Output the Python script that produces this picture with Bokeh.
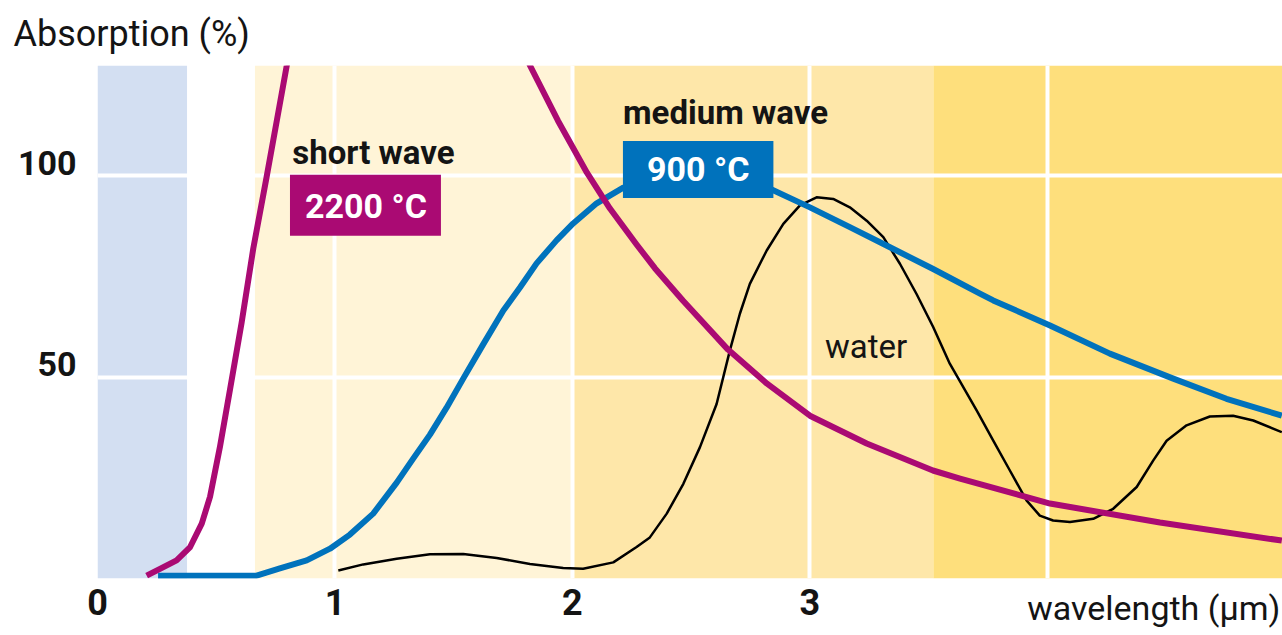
from bokeh.plotting import figure
from bokeh.models import BoxAnnotation, Label, LinearAxis, Range1d, FixedTicker
from bokeh.embed import file_html
from bokeh.resources import INLINE

FONT = "Roboto"

# spectral bands (wavelength, µm)
band_left = [0.0, 0.663, 2.0, 3.52]
band_right = [0.377, 2.0, 3.52, 5.2]
band_colors = ["#D3DFF2", "#FFF4D7", "#FEE7A9", "#FEDF7C"]

x_ticks = [0, 1, 2, 3]
grid_x = [1, 2, 3, 4]
y_ticks = [50, 100]
x_title = "wavelength (µm)"
x_title_pos = 4.448
y_title = "Absorption (%)"

# short wave emitter, 2200 °C
short_x = [0.207, 0.263, 0.333, 0.389, 0.439, 0.474, 0.516, 0.558, 0.607, 0.656, 0.712,
           0.755, 0.797, 0.83, 1.779, 1.821, 1.939, 2.061, 2.158, 2.270, 2.347, 2.465,
           2.655, 2.818, 3.0, 3.239, 3.518, 3.632, 4.011, 4.474, 4.987]
short_y = [0.7, 2.4, 4.5, 7.7, 13.6, 20.3, 32.8, 46.9, 63.5, 81.9, 99.6,
           113.6, 127.3, 140, 133.5, 127.3, 113.6, 100.7, 91.8, 82.9, 77.0, 69.0,
           56.8, 48.4, 40.4, 33.5, 26.8, 24.8, 18.6, 13.9, 9.4]

# medium wave emitter, 900 °C
mid_x = [0.255, 0.670, 0.768, 0.881, 0.979, 1.063, 1.161, 1.260, 1.330, 1.400, 1.470,
         1.540, 1.624, 1.709, 1.779, 1.849, 1.933, 2.003, 2.102, 2.214, 2.347, 2.524,
         2.684, 2.832, 3.0, 3.168, 3.337, 3.519, 3.716, 3.772, 4.011, 4.263, 4.530,
         4.754, 4.987]
mid_y = [0.7, 0.7, 2.5, 4.5, 7.4, 10.9, 16.1, 23.8, 29.8, 35.7, 42.4,
         49.6, 58.1, 66.5, 72.2, 78.2, 83.9, 88.1, 93.1, 97.0, 98.8, 99.8,
         98.8, 96.7, 92.1, 87.2, 82.2, 76.8, 70.7, 69.0, 62.8, 55.8, 49.6,
         44.6, 40.4]

# water absorption
water_x = [1.014, 1.119, 1.260, 1.400, 1.540, 1.681, 1.821, 1.961, 2.045, 2.172, 2.270,
           2.326, 2.397, 2.467, 2.537, 2.607, 2.663, 2.705, 2.747, 2.818, 2.888, 2.958,
           3.028, 3.098, 3.168, 3.239, 3.309, 3.379, 3.449, 3.519, 3.589, 3.702, 3.772,
           3.842, 3.912, 3.968, 4.024, 4.095, 4.193, 4.277, 4.376, 4.446, 4.502, 4.586,
           4.684, 4.782, 4.867, 4.987]
water_y = [2.0, 3.5, 4.9, 6.0, 6.1, 5.1, 3.6, 2.6, 2.4, 4.0, 7.8,
           10.2, 16.1, 23.5, 32.6, 43.3, 56.6, 65.7, 73.1, 81.4, 88.0, 92.6,
           94.6, 94.2, 92.1, 88.8, 84.7, 78.1, 70.6, 62.4, 53.3, 41.7, 34.2,
           26.8, 19.4, 15.6, 14.4, 14.0, 14.8, 17.3, 22.7, 29.3, 34.2, 38.0,
           40.2, 40.4, 39.2, 36.3]

MAGENTA = "#AA0A73"
BLUE = "#0072BC"
INK = "#141414"

X_END = 4.99
Y_END = 127.3
p = figure(width=1282, height=635,
           x_range=Range1d(0, X_END), y_range=Range1d(0, Y_END),
           output_backend="svg", toolbar_location=None,
           min_border_left=97, min_border_right=0, min_border_top=65, min_border_bottom=57)
p.background_fill_color = "white"
p.border_fill_color = "white"
p.outline_line_color = None

# title top-left
p.title.text = y_title
p.title.text_font = FONT
p.title.text_font_size = "36px"
p.title.text_font_style = "normal"
p.title.text_color = INK
p.title.align = "left"
p.title.vertical_align = "middle"
p.title.offset = -84
p.title.standoff = 19

for l, r, c in zip(band_left, band_right, band_colors):
    p.add_layout(BoxAnnotation(left=l, right=r, fill_color=c, fill_alpha=1.0,
                               line_color=None, level="image"))

p.xgrid.ticker = FixedTicker(ticks=grid_x)
p.ygrid.ticker = FixedTicker(ticks=y_ticks)
for g in (p.xgrid, p.ygrid):
    g.grid_line_color = "white"
    g.grid_line_width = 4
    g.level = "underlay"

def style_axis(a, size, bold):
    a.axis_line_color = None
    a.major_tick_line_color = None
    a.minor_tick_line_color = None
    a.major_tick_out = 0
    a.major_tick_in = 0
    a.minor_tick_out = 0
    a.major_label_text_font = FONT
    a.major_label_text_font_style = "bold" if bold else "normal"
    a.major_label_text_font_size = size
    a.major_label_text_color = INK

# x axis digits
ax = p.xaxis[0]
ax.ticker = FixedTicker(ticks=x_ticks)
style_axis(ax, "36px", True)
ax.major_label_standoff = 10

# x axis title, on the same row as the digits
p.extra_x_ranges = {"wl": Range1d(-x_title_pos, X_END - x_title_pos)}
ax2 = LinearAxis(x_range_name="wl", ticker=FixedTicker(ticks=[0]),
                 major_label_overrides={0: x_title})
style_axis(ax2, "34px", False)
ax2.major_label_standoff = -30
p.add_layout(ax2, "below")

# y axis: labels sit on top of the gridlines
p.yaxis.visible = False
p.extra_y_ranges = {"lab": Range1d(-3.2, Y_END - 3.2)}
ay = LinearAxis(y_range_name="lab", ticker=FixedTicker(ticks=y_ticks))
style_axis(ay, "34px", True)
ay.major_label_standoff = 21
p.add_layout(ay, "left")

p.line(water_x, water_y, line_color="black", line_width=2.5, line_join="round")
p.line(mid_x, mid_y, line_color=BLUE, line_width=6, line_join="round")
p.line(short_x, short_y, line_color=MAGENTA, line_width=6, line_join="round")

def lab(x, y, text, size, bold=False, color=INK, **kw):
    p.add_layout(Label(x=x, y=y, text=text, text_font=FONT, text_font_size=size,
                       text_font_style="bold" if bold else "normal", text_color=color,
                       text_align="left", text_baseline="alphabetic", **kw))

lab(0.820, 105.6, "short wave", "33px", bold=True)
lab(2.213, 115.6, "medium wave", "33px", bold=True)
lab(3.063, 57.5, "water", "33px")
lab(0.8105, 92.6, "2200 °C", "34px", bold=True, color="white",
    background_fill_color=MAGENTA, padding=dict(left=15, right=14, top=11, bottom=10))
lab(2.2126, 101.5, "900 °C", "34px", bold=True, color="white",
    background_fill_color=BLUE, padding=dict(left=24, right=24, top=8, bottom=9))

open("out.html", "w").write(file_html(p, INLINE))
